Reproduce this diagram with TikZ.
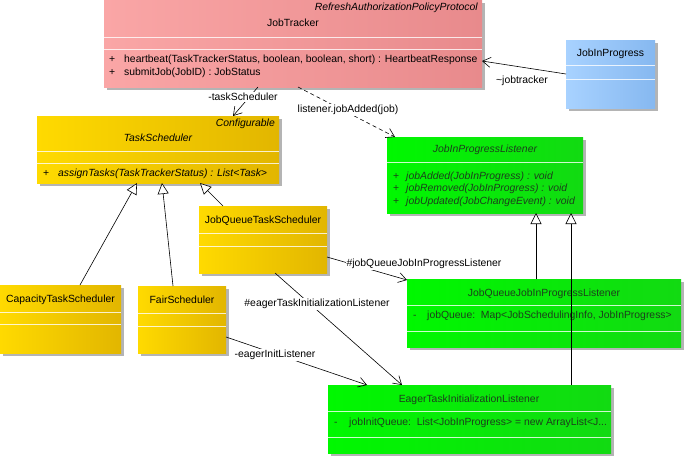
\documentclass[tikz,border=0pt]{standalone}
\usepackage{fontspec}
\setmainfont{Liberation Sans}
\usetikzlibrary{arrows.meta,calc,shadows}
\definecolor{pinkL}{HTML}{FAA6A6}
\definecolor{pinkR}{HTML}{E88A8C}
\definecolor{blueL}{HTML}{A8D2FF}
\definecolor{blueR}{HTML}{86B8F0}
\definecolor{yelL}{HTML}{FFDA00}
\definecolor{yelR}{HTML}{E2B600}
\definecolor{grnL}{HTML}{00F800}
\definecolor{grnR}{HTML}{12DA12}
\definecolor{grnTxt}{HTML}{1C3F1C}
\definecolor{shadowc}{HTML}{B4B4B4}
\tikzset{
  cls/.style={rectangle, anchor=north west, inner sep=0pt, outer sep=0pt,
    general shadow={fill=shadowc, shadow xshift=3pt, shadow yshift=-3pt}},
  pinkcls/.style={cls, left color=pinkL, right color=pinkR},
  bluecls/.style={cls, left color=blueL, right color=blueR},
  yelcls/.style={cls, left color=yelL, right color=yelR},
  grncls/.style={cls, left color=grnL, right color=grnR},
  sepline/.style={draw=white, draw opacity=0.8, line width=0.7pt},
  txt/.style={font=\fontsize{10.4}{12}\selectfont, inner sep=0pt},
  itxt/.style={font=\fontsize{10.4}{12}\selectfont\itshape, inner sep=0pt},
  gtxt/.style={txt, text=grnTxt},
  gitxt/.style={itxt, text=grnTxt},
  lbl/.style={font=\fontsize{10.4}{12}\selectfont, fill=white, inner sep=1pt},
  conn/.style={draw=black, line width=0.6pt},
  assoc/.style={conn, -{Straight Barb[length=8pt,width=10pt]}},
  depend/.style={assoc, dash pattern=on 4pt off 3pt},
  gen/.style={conn, -{Triangle[fill=white, length=11pt, width=11pt]}},
}
\begin{document}
\begin{tikzpicture}[x=1pt,y=-1pt]
\useasboundingbox (0,0) rectangle (684,458);

% ---------- classes ----------
\node[pinkcls, minimum width=378pt, minimum height=87pt] (jt) at (104,0) {};
\node[bluecls, minimum width=89pt, minimum height=68pt] (jip) at (566,40) {};
\node[yelcls, minimum width=242pt, minimum height=67pt] (ts) at (37,116) {};
\node[grncls, minimum width=196pt, minimum height=76pt] (jipl) at (387,137) {};
\node[yelcls, minimum width=128pt, minimum height=67pt] (jqts) at (199,206) {};
\node[yelcls, minimum width=121pt, minimum height=68pt] (cts) at (0,285) {};
\node[yelcls, minimum width=88pt, minimum height=67pt] (fs) at (138,286) {};
\node[grncls, minimum width=274pt, minimum height=68pt] (jqjipl) at (407,279) {};
\node[grncls, minimum width=283pt, minimum height=68pt] (etil) at (328,385) {};

% ---------- compartments ----------
\foreach \n/\a/\b in {jt/37/49, jip/25/39, ts/35/47, jqts/27/40, cts/27/39, fs/27/40, jqjipl/26/52, etil/26/52}{
  \draw[sepline] ($(\n.north west)+(0,\a)$) -- ($(\n.north east)+(0,\a)$);
  \draw[sepline] ($(\n.north west)+(0,\b)$) -- ($(\n.north east)+(0,\b)$);
}
\draw[sepline] ($(jipl.north west)+(0,25)$) -- ($(jipl.north east)+(0,25)$);

% ---------- texts ----------
% JobTracker
\node[itxt, anchor=mid east] (jtst) at ($(jt.north west)+(374,8)$) {RefreshAuthorizationPolicyProtocol};
\node[txt, anchor=mid] (jtn) at ($(jt.north west)+(189,24)$) {JobTracker};
\node[txt, anchor=mid west] (jtp1) at ($(jt.north west)+(5,60)$) {+};
\node[txt, anchor=mid west] (jtm1) at ($(jt.north west)+(20,60)$) {heartbeat(TaskTrackerStatus, boolean, boolean, short) : HeartbeatResponse};
\node[txt, anchor=mid west] (jtp2) at ($(jt.north west)+(5,73)$) {+};
\node[txt, anchor=mid west] (jtm2) at ($(jt.north west)+(20,73)$) {submitJob(JobID) : JobStatus};
% JobInProgress
\node[txt, anchor=mid] (jipn) at ($(jip.north west)+(44.5,14)$) {JobInProgress};
% TaskScheduler
\node[itxt, anchor=mid east] (tsst) at ($(ts.north west)+(238,8)$) {Configurable};
\node[itxt, anchor=mid] (tsn) at ($(ts.north west)+(121,23)$) {TaskScheduler};
\node[txt, anchor=mid west] (tsp) at ($(ts.north west)+(6,58)$) {+};
\node[itxt, anchor=mid west] (tsm) at ($(ts.north west)+(21,58)$) {assignTasks(TaskTrackerStatus) : List<Task>};
% JobInProgressListener
\node[gitxt, anchor=mid] (jipln) at ($(jipl.north west)+(98,13)$) {JobInProgressListener};
\node[gtxt, anchor=mid west] (jiplp1) at ($(jipl.north west)+(6,40)$) {+};
\node[gitxt, anchor=mid west] (jiplm1) at ($(jipl.north west)+(19,40)$) {jobAdded(JobInProgress) : void};
\node[gtxt, anchor=mid west] (jiplp2) at ($(jipl.north west)+(6,52)$) {+};
\node[gitxt, anchor=mid west] (jiplm2) at ($(jipl.north west)+(19,52)$) {jobRemoved(JobInProgress) : void};
\node[gtxt, anchor=mid west] (jiplp3) at ($(jipl.north west)+(6,65)$) {+};
\node[gitxt, anchor=mid west] (jiplm3) at ($(jipl.north west)+(19,65)$) {jobUpdated(JobChangeEvent) : void};
% schedulers
\node[txt, anchor=mid] (jqtsn) at ($(jqts.north west)+(64,15)$) {JobQueueTaskScheduler};
\node[txt, anchor=mid] (ctsn) at ($(cts.north west)+(60.5,15)$) {CapacityTaskScheduler};
\node[txt, anchor=mid] (fsn) at ($(fs.north west)+(44,15)$) {FairScheduler};
% JobQueueJobInProgressListener
\node[gtxt, anchor=mid] (jqjipln) at ($(jqjipl.north west)+(137,15)$) {JobQueueJobInProgressListener};
\node[gtxt, anchor=mid west] (jqjiplp) at ($(jqjipl.north west)+(6,37)$) {-};
\node[gtxt, anchor=mid west] (jqjipla) at ($(jqjipl.north west)+(20,37)$) {jobQueue:\ \ Map<JobSchedulingInfo, JobInProgress>};
% EagerTaskInitializationListener
\node[gtxt, anchor=mid] (etiln) at ($(etil.north west)+(141,15)$) {EagerTaskInitializationListener};
\node[gtxt, anchor=mid west] (etilp) at ($(etil.north west)+(6,38)$) {-};
\node[gtxt, anchor=mid west] (etila) at ($(etil.north west)+(21,38)$) {jobInitQueue:\ \ List<JobInProgress> = new ArrayList<J...};

% ---------- connectors ----------
\draw[assoc] (jip.west) -- ($(jt.north east)+(0,61)$);
\draw[assoc] ($(jt.south west)+(154,0)$) -- ($(ts.north west)+(196,0)$);
\draw[depend] ($(jt.south west)+(194,0)$) -- ($(jipl.north west)+(8,0)$);
\draw[gen] ($(cts.north west)+(80,0)$) -- ($(ts.south west)+(100,0)$);
\draw[gen] ($(fs.north west)+(35,0)$) -- ($(ts.south west)+(125,0)$);
\draw[gen] ($(jqts.north west)+(24,0)$) -- ($(ts.south west)+(163,0)$);
\draw[gen] ($(jqjipl.north west)+(129,0)$) -- ($(jipl.south west)+(149,0)$);
\draw[gen] ($(etil.north west)+(243,0)$) -- ($(jipl.south west)+(184,0)$);
\draw[assoc] ($(jqts.north east)+(0,51)$) -- ($(jqjipl.north west)+(0,1)$);
\draw[assoc] ($(jqts.south west)+(76,0)$) -- ($(etil.north west)+(74,0)$);
\draw[assoc] ($(fs.north east)+(0,51)$) -- ($(etil.north west)+(39,0)$);

% ---------- labels ----------
\node[lbl, fill=none] (l1) at (522,81) {\textasciitilde jobtracker};
\node[lbl] (l2) at (243,97) {-taskScheduler};
\node[lbl] (l3) at (348,110) {listener.jobAdded(job)};
\node[lbl] (l4) at (424,264) {\#jobQueueJobInProgressListener};
\node[lbl] (l5) at (317,304) {\#eagerTaskInitializationListener};
\node[lbl] (l6) at (275,355) {-eagerInitListener};
\end{tikzpicture}
\end{document}
